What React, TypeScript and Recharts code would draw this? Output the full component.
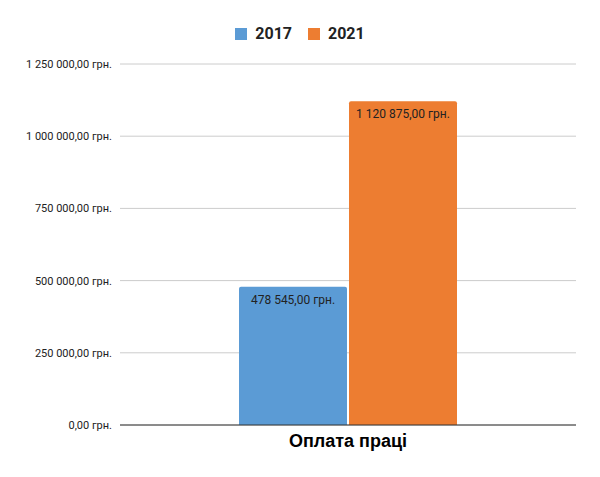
import { BarChart, Bar, XAxis, YAxis, CartesianGrid, Legend, LabelList } from 'recharts'

const categories = ['Оплата праці']
const values2017 = [478545]
const values2021 = [1120875]
const yTicks = [0, 250000, 500000, 750000, 1000000, 1250000]
const seriesNames = ['2017', '2021']
const seriesColors = ['#5b9bd5', '#ed7d31']

const data = categories.map((name, i) => ({
  name,
  v2017: values2017[i],
  v2021: values2021[i],
}))

function formatUah(value: number) {
  const [intPart, frac] = value.toFixed(2).split('.')
  const grouped = intPart.replace(/\B(?=(\d{3})+(?!\d))/g, ' ')
  return `${grouped},${frac} грн.`
}

function LegendContent() {
  return (
    <div style={{ display: 'flex', justifyContent: 'center', alignItems: 'center', gap: 16 }}>
      {seriesNames.map((name, i) => (
        <div key={name} style={{ display: 'flex', alignItems: 'center' }}>
          <span style={{ width: 12, height: 12, background: seriesColors[i], display: 'inline-block', marginRight: 8 }} />
          <span style={{ fontFamily: 'Roboto', fontWeight: 700, fontSize: 16, color: '#222' }}>{name}</span>
        </div>
      ))}
    </div>
  )
}

// plain svg text so the label doesn't wrap to bar width
function renderBarLabel(props: any) {
  const { x, y, width, value } = props
  return (
    <text
      x={x + width / 2}
      y={y + 14}
      textAnchor="middle"
      dominantBaseline="middle"
      style={{ fontFamily: 'Roboto', fontSize: 12, fill: '#222' }}
    >
      {formatUah(value)}
    </text>
  )
}

function App() {
  return (
    <div style={{ position: 'absolute', left: 0, top: 0, width: 600, height: 477, background: '#fff' }}>
      <BarChart
        width={600}
        height={477}
        data={data}
        margin={{ top: 24, right: 24, left: 0, bottom: 0 }}
        barSize={108}
        barGap={2}
      >
        <Legend
          verticalAlign="top"
          height={40}
          content={<LegendContent />}
          wrapperStyle={{ left: 0, width: 600 }}
        />
        <CartesianGrid vertical={false} stroke="#cccccc" />
        <XAxis
          dataKey="name"
          height={52}
          tickLine={false}
          axisLine={{ stroke: '#333' }}
          tick={{ fontFamily: 'Liberation Sans', fontWeight: 700, fontSize: 18, fill: '#000' }}
          tickMargin={3}
        />
        <YAxis
          width={120}
          domain={[0, 1250000]}
          ticks={yTicks}
          axisLine={false}
          tickLine={false}
          tickFormatter={formatUah}
          tick={{ fontFamily: 'Roboto', fontSize: 11, fill: '#222' }}
        />
        <Bar dataKey="v2017" name={seriesNames[0]} fill={seriesColors[0]} radius={[2, 2, 0, 0]} isAnimationActive={false}>
          <LabelList dataKey="v2017" content={renderBarLabel} />
        </Bar>
        <Bar dataKey="v2021" name={seriesNames[1]} fill={seriesColors[1]} radius={[2, 2, 0, 0]} isAnimationActive={false}>
          <LabelList dataKey="v2021" content={renderBarLabel} />
        </Bar>
      </BarChart>
    </div>
  )
}

export default App
